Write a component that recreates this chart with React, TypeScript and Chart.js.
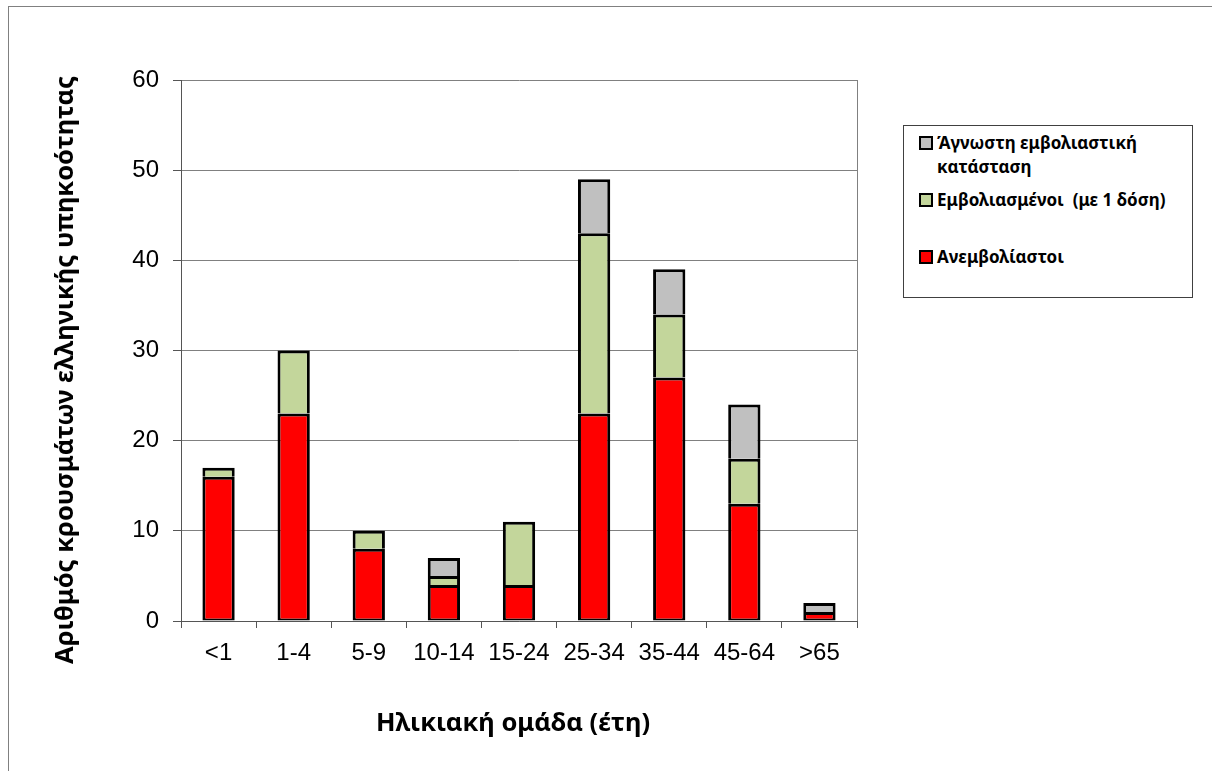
import React, { useEffect, useRef } from "react";
import { Chart, registerables } from "chart.js";

Chart.register(...registerables);

const categories = ["<1", "1-4", "5-9", "10-14", "15-24", "25-34", "35-44", "45-64", ">65"];
const unvaccinated = [16, 23, 8, 4, 4, 23, 27, 13, 1];
const vaccinatedOneDose = [1, 7, 2, 1, 7, 20, 7, 5, null];
const unknownStatus = [null, null, null, 2, null, 6, 5, 6, 1];
const yTicks = [0, 10, 20, 30, 40, 50, 60];

const legendItems = [
  { label: ["Άγνωστη εμβολιαστική", "κατάσταση"], color: "#C0C0C0", top: 131 },
  { label: ["Εμβολιασμένοι  (με 1 δόση)"], color: "#C3D69B", top: 188 },
  { label: ["Ανεμβολίαστοι"], color: "#FF0000", top: 245 },
];

const frameLine = {
  id: "frameLine",
  afterDraw(chart: any) {
    const { ctx, chartArea } = chart;
    ctx.save();
    ctx.strokeStyle = "#808080";
    ctx.lineWidth = 1;
    ctx.beginPath();
    ctx.moveTo(Math.round(chartArea.right) + 0.5, chartArea.top);
    ctx.lineTo(Math.round(chartArea.right) + 0.5, chartArea.bottom);
    ctx.stroke();
    ctx.restore();
  },
};

export default function App() {
  const canvasRef = useRef<HTMLCanvasElement | null>(null);

  useEffect(() => {
    if (!canvasRef.current) return;
    const ds = (label: string, data: (number | null)[], color: string, bottom: number) => ({
      label,
      data,
      backgroundColor: color,
      borderColor: "#000000",
      borderWidth: { top: 3, left: 3, right: 3, bottom },
      borderSkipped: false as const,
      barPercentage: 0.43,
      categoryPercentage: 1,
    });
    const chart = new Chart(canvasRef.current, {
      type: "bar",
      data: {
        labels: categories,
        datasets: [
          ds("Ανεμβολίαστοι", unvaccinated, "#FF0000", 2),
          ds("Εμβολιασμένοι  (με 1 δόση)", vaccinatedOneDose, "#C3D69B", 0),
          ds("Άγνωστη εμβολιαστική κατάσταση", unknownStatus, "#C0C0C0", 0),
        ],
      },
      options: {
        animation: false,
        responsive: true,
        maintainAspectRatio: false,
        layout: { padding: { left: 0, top: 80, right: 355, bottom: 0 } },
        plugins: { legend: { display: false }, tooltip: { enabled: false } },
        scales: {
          x: {
            stacked: true,
            afterFit: (s: any) => {
              s.height = 150;
            },
            grid: {
              display: true,
              drawOnChartArea: false,
              drawTicks: true,
              tickLength: 7,
              color: "#555555",
              offset: true,
            },
            border: { display: true, color: "#555555", width: 1 },
            ticks: {
              color: "#000000",
              padding: 11,
              font: { family: "'Liberation Sans', Arial, sans-serif", size: 24 },
              maxRotation: 0,
              autoSkip: false,
            },
          },
          y: {
            stacked: true,
            min: 0,
            max: 60,
            afterFit: (s: any) => {
              s.width = 181;
            },
            afterBuildTicks: (s: any) => {
              s.ticks = yTicks.map((v) => ({ value: v }));
            },
            grid: {
              color: "#808080",
              tickColor: "#555555",
              tickLength: 8,
              lineWidth: 1,
            },
            border: { display: true, color: "#555555", width: 1 },
            ticks: {
              color: "#000000",
              padding: 14,
              font: { family: "'Liberation Sans', Arial, sans-serif", size: 24 },
            },
          },
        },
      },
      plugins: [frameLine],
    });
    return () => chart.destroy();
  }, []);

  const boldFont = "'Noto Sans', 'Open Sans', sans-serif";

  return (
    <div
      style={{
        position: "absolute",
        left: 0,
        top: 0,
        width: 1212,
        height: 771,
        overflow: "hidden",
        background: "#ffffff",
      }}
    >
      <div
        style={{
          position: "absolute",
          left: 8,
          top: 6,
          width: 1300,
          height: 900,
          border: "1.5px solid #808080",
        }}
      />
      <div style={{ position: "absolute", left: 0, top: 0, width: 1212, height: 771 }}>
        <canvas ref={canvasRef} />
      </div>
      <div
        style={{
          position: "absolute",
          left: 63,
          top: 370,
          transform: "translate(-50%, -50%) rotate(-90deg)",
          whiteSpace: "nowrap",
          fontFamily: boldFont,
          fontWeight: 700,
          fontSize: 25.5,
          lineHeight: "30px",
          color: "#000",
        }}
      >
        Αριθμός κρουσμάτων ελληνικής υπηκοότητας
      </div>
      <div
        style={{
          position: "absolute",
          left: 513,
          top: 721,
          transform: "translate(-50%, -50%)",
          whiteSpace: "nowrap",
          fontFamily: boldFont,
          fontWeight: 700,
          fontSize: 25.5,
          lineHeight: "30px",
          color: "#000",
        }}
      >
        Ηλικιακή ομάδα (έτη)
      </div>
      <div
        style={{
          position: "absolute",
          left: 903,
          top: 125,
          width: 288,
          height: 171,
          border: "1px solid #404040",
          background: "#fff",
        }}
      />
      {legendItems.map((it, i) => (
        <div key={i} style={{ position: "absolute", left: 919, top: it.top }}>
          <div
            style={{
              position: "absolute",
              left: 0,
              top: 5,
              width: 14,
              height: 14,
              boxSizing: "border-box",
              background: it.color,
              border: "2px solid #000",
            }}
          />
          <div
            style={{
              position: "absolute",
              left: 18,
              top: 0,
              whiteSpace: "pre",
              fontFamily: boldFont,
              fontWeight: 700,
              fontSize: 17,
              lineHeight: "24px",
              color: "#000",
            }}
          >
            {it.label.map((l, j) => (
              <div key={j}>{l}</div>
            ))}
          </div>
        </div>
      ))}
    </div>
  );
}
